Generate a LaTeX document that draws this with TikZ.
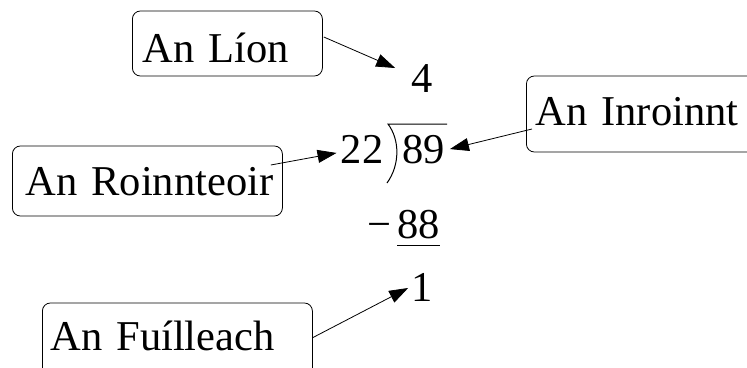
\documentclass[tikz,border=0pt]{standalone}
\usepackage{fontspec}
\setmainfont{Liberation Serif}
\usetikzlibrary{arrows.meta}

\tikzset{
    caja/.style={draw, line width=0.8pt, rounded corners=8pt, align=left, anchor=base west, inner ysep=0pt},
    num/.style={inner sep=0pt, anchor=base},
    flecha/.style={-{Triangle[length=19pt, width=13pt]}, line width=0.8pt}
}

\begin{document}
\begin{tikzpicture}[x=1pt, y=-1pt, font=\fontsize{42.5}{51}\selectfont]
        \useasboundingbox (0, 0) rectangle (747, 367);
        \clip (0, 0) rectangle (747, 367);

        % Cuenta
        \node[num] (n4) at (422, 92) {4};
        \node[num] (n22) at (362, 163) {22};
        \node[num] (n89) at (423.5, 163) {89};
        \node[num] (menos) at (379, 238) {−};
        \node[num] (n88) at (418.5, 238) {88};
        \node[num] (n1) at (422, 301) {1};

        % Signo de la división y raya de la resta
        \draw[line width=1pt] (447, 124) -- (388, 124) .. controls (400, 140) and (400, 165) .. (387, 183);
        \draw[line width=1pt] ([yshift=-7pt]n88.south west) -- ([yshift=-7pt]n88.south east);

        % Etiquetas
        \node[caja, inner xsep=10pt, text width=170pt, text height=51pt, text depth=14pt] (lion) at (132, 62) {\mbox{An Líon}};
        \node[caja, inner xsep=13pt, text width=244pt, text height=49pt, text depth=21pt] (roinn) at (12, 195) {\mbox{An Roinnteoir}};
        \node[caja, inner xsep=9pt, text width=242pt, text height=49pt, text depth=27pt] (inroinnt) at (526, 125) {\mbox{An Inroinnt}};
        \node[caja, inner xsep=8pt, text width=254pt, text height=47pt, text depth=30pt] (fuill) at (42, 350) {\mbox{An Fuílleach}};

        % Flechas
        \draw[flecha] ([shift={(1, -6.5)}]lion.east) -- ([shift={(-16, -10)}]n4.west);
        \draw[flecha] ([shift={(-12, -16)}]roinn.east) -- ([shift={(-4, 4)}]n22.west);
        \draw[flecha] ([shift={(6, 15)}]inroinnt.west) -- ([shift={(5, 0)}]n89.east);
        \draw[flecha] ([shift={(0, 35)}]fuill.north east) -- ([shift={(-3, 1)}]n1.west);
\end{tikzpicture}
\end{document}
